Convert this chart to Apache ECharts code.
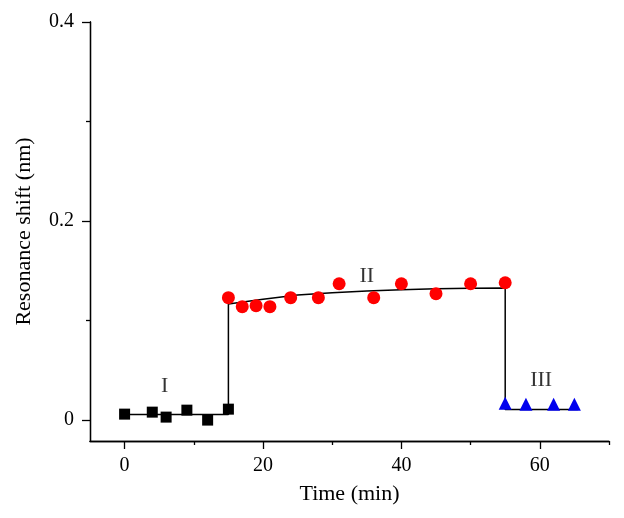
<!DOCTYPE html>
<html><head><meta charset="utf-8">
<script src="https://cdn.jsdelivr.net/npm/echarts@6/dist/echarts.min.js"></script>
<style>html,body{margin:0;padding:0;background:#fff}#c{width:624px;height:518px}</style>
</head><body><div id="c"></div>
<script>
// Stage I (black squares)
const tI = [0, 4, 6, 9, 12, 15];
const vI = [0.006, 0.008, 0.003, 0.010, 0.000, 0.011];
// Stage II (red circles)
const tII = [15, 17, 19, 21, 24, 28, 31, 36, 40, 45, 50, 55];
const vII = [0.123, 0.114, 0.115, 0.114, 0.123, 0.123, 0.137, 0.123, 0.137, 0.127, 0.137, 0.138];
// Stage III (blue triangles)
const tIII = [55, 58, 62, 65];
const vIII = [0.017, 0.016, 0.016, 0.016];
// Fitted step curve (black line)
const fitT = [0, 15, 15, 20, 25, 30, 35, 40, 45, 50, 55, 55, 65.5];
const fitV = [0.0057, 0.0057, 0.1166, 0.1215, 0.1256, 0.128, 0.1297, 0.131, 0.132, 0.1325, 0.1327, 0.0107, 0.0107];
// Stage labels
const stageNames = ['I', 'II', 'III'];
const stageT = [5.8, 35, 60.2];
const stageV = [0.034, 0.145, 0.040];
// Ticks
const xMajor = [0, 20, 40, 60];
const xMinor = [10, 30, 50, 70];
const yMajor = [0, 0.2, 0.4];
const yMinor = [0.1, 0.3];

const font = 'Liberation Serif';
const pair = (a, b) => a.map((x, i) => [x, b[i]]);
const chart = echarts.init(document.getElementById('c'), null, {renderer: 'canvas'});
const axisLine = {show: true, onZero: false, lineStyle: {color: '#000', width: 1.3}};
const baseX = {type: 'value', min: -5, max: 70, splitLine: {show: false}, axisLine: axisLine};
const baseY = {type: 'value', min: -0.021, max: 0.4, splitLine: {show: false}, axisLine: axisLine};
chart.setOption({
  animation: false,
  grid: {left: 90, right: 15, top: 22, bottom: 77},
  xAxis: [
    Object.assign({}, baseX, {
      name: 'Time (min)', nameLocation: 'middle', nameGap: 42,
      nameTextStyle: {fontFamily: font, fontSize: 22, color: '#000'},
      axisTick: {show: true, length: 8, customValues: xMajor, lineStyle: {color: '#000', width: 1.3}},
      axisLabel: {customValues: xMajor, margin: 15, fontFamily: font, fontSize: 20, color: '#000'}
    }),
    Object.assign({}, baseX, {
      position: 'bottom',
      axisTick: {show: true, length: 4, customValues: xMinor, lineStyle: {color: '#000', width: 1.3}},
      axisLabel: {show: false}
    })
  ],
  yAxis: [
    Object.assign({}, baseY, {
      name: 'Resonance shift (nm)', nameLocation: 'middle', nameGap: 55,
      nameTextStyle: {fontFamily: font, fontSize: 22, color: '#000'},
      axisTick: {show: true, length: 8, customValues: yMajor, lineStyle: {color: '#000', width: 1.3}},
      axisLabel: {customValues: yMajor, margin: 16, fontFamily: font, fontSize: 20, color: '#000',
        formatter: v => (v === 0 ? '0' : String(v))}
    }),
    Object.assign({}, baseY, {
      position: 'left',
      axisTick: {show: true, length: 4, customValues: yMinor, lineStyle: {color: '#000', width: 1.3}},
      axisLabel: {show: false}
    })
  ],
  series: [
    {type: 'line', data: pair(fitT, fitV), symbol: 'none', lineStyle: {color: '#000', width: 1.5}, z: 2},
    {type: 'scatter', data: pair(tI, vI), symbol: 'rect', symbolSize: 11, itemStyle: {color: '#000', opacity: 1}, z: 3},
    {type: 'scatter', data: pair(tII, vII), symbol: 'circle', symbolSize: 13, itemStyle: {color: '#ff0000', opacity: 1}, z: 3},
    {type: 'scatter', data: pair(tIII, vIII), symbol: 'triangle', symbolSize: 13, itemStyle: {color: '#0000ee', opacity: 1}, z: 3},
    {type: 'scatter', symbolSize: 0, silent: true, z: 4,
      data: stageT.map((t, i) => ({value: [t, stageV[i]], name: stageNames[i]})),
      label: {show: true, position: 'inside', formatter: p => p.name, fontFamily: font, fontSize: 22, color: '#000'}}
  ]
});
</script></body></html>
